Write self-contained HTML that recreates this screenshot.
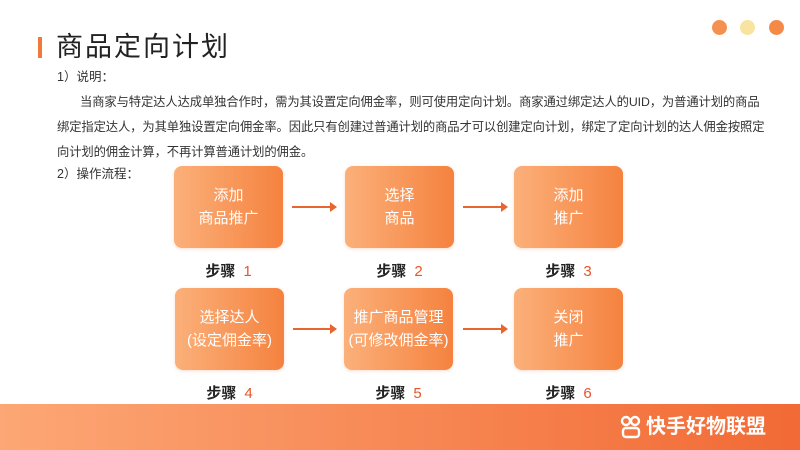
<!DOCTYPE html>
<html><head><meta charset="utf-8"><style>
*{margin:0;padding:0;box-sizing:border-box}
body{width:800px;height:450px;overflow:hidden;background:#fff;position:relative;font-family:"Liberation Sans","Noto Sans CJK SC",sans-serif;color:#222}
.a{position:absolute}
.bar{left:38px;top:37px;width:4px;height:21px;background:#f07a3a}
.title{left:56px;top:30px;font-size:27px;color:#222;letter-spacing:2px;line-height:34px}
.dot{width:15px;height:15px;border-radius:50%;top:20px}
.t{font-size:12.5px;color:#333;line-height:25px;white-space:nowrap}
.p{font-size:12.3px;letter-spacing:-0.1px}
.box{width:109px;height:82px;border-radius:8px;background:linear-gradient(90deg,#fbb07a,#f5823f);color:#fff;font-size:15px;line-height:23px;display:flex;align-items:center;justify-content:center;text-align:center;box-shadow:0 1px 3px rgba(240,120,60,.25)}
.st{font-size:15px;width:109px;text-align:center;color:#222;font-weight:bold}
.st span{color:#e8552a;font-weight:normal;margin-left:8px}
.arr{height:2px;background:#e8652f}
.arr:after{content:"";position:absolute;right:-2px;top:-4px;border-left:7px solid #e8652f;border-top:5px solid transparent;border-bottom:5px solid transparent}
.foot{left:0;top:404px;width:800px;height:46px;background:linear-gradient(90deg,#fca775,#f26a35)}
</style></head><body>
<div class="a bar"></div>
<div class="a title">商品定向计划</div>
<div class="a dot" style="left:712px;background:#f59150"></div>
<div class="a dot" style="left:740px;background:#f8e3a0"></div>
<div class="a dot" style="left:769px;background:#f58a48"></div>
<div class="a t" style="left:57px;top:65px">1）说明：</div>
<div class="a t p" style="left:80px;top:90px">当商家与特定达人达成单独合作时，需为其设置定向佣金率，则可使用定向计划。商家通过绑定达人的UID，为普通计划的商品</div>
<div class="a t p" style="left:57px;top:115px">绑定指定达人，为其单独设置定向佣金率。因此只有创建过普通计划的商品才可以创建定向计划，绑定了定向计划的达人佣金按照定</div>
<div class="a t p" style="left:57px;top:140px">向计划的佣金计算，不再计算普通计划的佣金。</div>
<div class="a t" style="left:57px;top:162px">2）操作流程：</div>

<div class="a box" style="left:174px;top:166px">添加<br>商品推广</div>
<div class="a box" style="left:345px;top:166px">选择<br>商品</div>
<div class="a box" style="left:514px;top:166px">添加<br>推广</div>
<div class="a arr" style="left:292px;top:206px;width:43px"></div>
<div class="a arr" style="left:463px;top:206px;width:43px"></div>
<div class="a st" style="left:174px;top:260px">步骤<span>1</span></div>
<div class="a st" style="left:345px;top:260px">步骤<span>2</span></div>
<div class="a st" style="left:514px;top:260px">步骤<span>3</span></div>

<div class="a box" style="left:175px;top:288px">选择达人<br>(设定佣金率)</div>
<div class="a box" style="left:344px;top:288px">推广商品管理<br>(可修改佣金率)</div>
<div class="a box" style="left:514px;top:288px">关闭<br>推广</div>
<div class="a arr" style="left:293px;top:328px;width:42px"></div>
<div class="a arr" style="left:463px;top:328px;width:43px"></div>
<div class="a st" style="left:175px;top:382px">步骤<span>4</span></div>
<div class="a st" style="left:344px;top:382px">步骤<span>5</span></div>
<div class="a st" style="left:514px;top:382px">步骤<span>6</span></div>

<div class="a foot"></div>
<svg class="a" style="left:620px;top:415px" width="22" height="24" viewBox="0 0 22 24"><g fill="none" stroke="#fff" stroke-width="2.4"><circle cx="6" cy="6" r="4"/><circle cx="15" cy="6" r="4"/><rect x="3" y="13" width="16" height="9" rx="3"/></g></svg>
<div class="a" style="left:646px;top:413px;font-size:20px;font-weight:bold;color:#fff;line-height:28px">快手好物联盟</div>
</body></html>
